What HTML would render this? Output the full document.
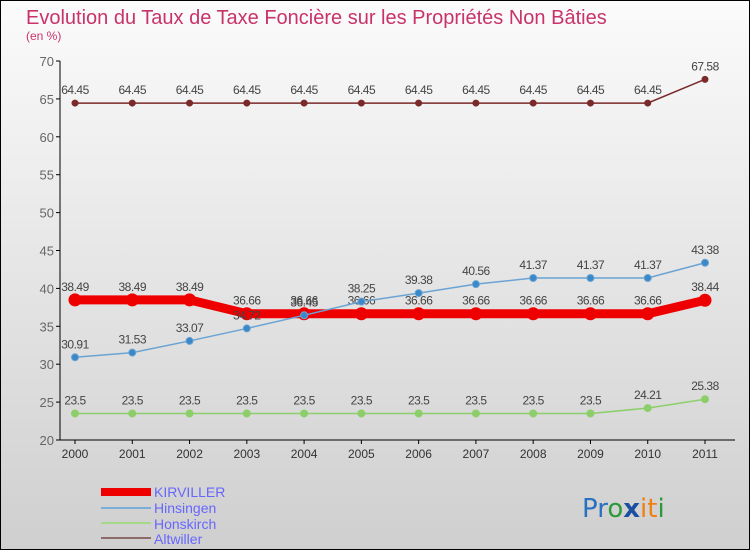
<!DOCTYPE html>
<html><head><meta charset="utf-8"><style>
body{margin:0;}
#wrap{width:750px;height:550px;position:relative;box-sizing:border-box;border:1px solid #000;background:linear-gradient(#fbfbfb,#cfcfcf);font-family:"Liberation Sans",sans-serif;overflow:hidden}
</style></head><body>
<div id="wrap">
<svg id="chart" width="750" height="550" style="position:absolute;left:-1px;top:-1px">
<text x="26" y="24" font-size="20" fill="#c8336a">Evolution du Taux de Taxe Foncière sur les Propriétés Non Bâties</text>
<text x="26" y="40" font-size="12" fill="#c8336a">(en %)</text>
<g id="axes"></g><g id="series"></g>
<g>
<rect x="101" y="488" width="50" height="8" fill="#ee0000"/>
<text x="154" y="497" font-size="14" fill="#6666ff">KIRVILLER</text>
<line x1="101" y1="508" x2="151" y2="508" stroke="#7aaed6" stroke-width="2"/>
<text x="154" y="513" font-size="14" fill="#6666ff">Hinsingen</text>
<line x1="101" y1="523" x2="151" y2="523" stroke="#a6d88a" stroke-width="2"/>
<text x="154" y="529" font-size="14" fill="#6666ff">Honskirch</text>
<line x1="101" y1="538" x2="151" y2="538" stroke="#8e6b6b" stroke-width="2"/>
<text x="154" y="544" font-size="14" fill="#6666ff">Altwiller</text>
</g>
<g font-size="26" font-family="DejaVu Sans, sans-serif">
<text x="582" y="517"><tspan fill="#2a70c0">Pr</tspan><tspan fill="#2a9a3a">o</tspan><tspan fill="#1a50a0" font-weight="bold">x</tspan><tspan fill="#f08010">it</tspan><tspan fill="#2a9a3a">i</tspan></text>
</g>
</svg>
</div>
<script>
const years=["2000","2001","2002","2003","2004","2005","2006","2007","2008","2009","2010","2011"];
const yTicks=[20,25,30,35,40,45,50,55,60,65,70];
const kirviller=[38.49,38.49,38.49,36.66,36.66,36.66,36.66,36.66,36.66,36.66,36.66,38.44];
const hinsingen=[30.91,31.53,33.07,34.72,36.45,38.25,39.38,40.56,41.37,41.37,41.37,43.38];
const honskirch=[23.5,23.5,23.5,23.5,23.5,23.5,23.5,23.5,23.5,23.5,24.21,25.38];
const altwiller=[64.45,64.45,64.45,64.45,64.45,64.45,64.45,64.45,64.45,64.45,64.45,67.58];
const NS="http://www.w3.org/2000/svg";
const x0=75,x1=705,y20=440,y70=61;
const xs=i=>x0+i*(x1-x0)/(years.length-1);
const ys=v=>y20-(v-20)*(y20-y70)/50;
function mk(t,a,p){const e=document.createElementNS(NS,t);for(const k in a)e.setAttribute(k,a[k]);p.appendChild(e);return e;}
const ax=document.getElementById('axes');
const yl=mk('line',{x1:60,y1:y70,x2:60,y2:y20,stroke:'#000'},ax);


const xl=mk('line',{x1:60,y1:y20,x2:735,y2:y20,stroke:'#000'},ax);


yTicks.forEach(v=>{
 mk('line',{x1:56,y1:ys(v),x2:60,y2:ys(v),stroke:'#000'},ax);
 const t=mk('text',{x:54,y:ys(v)+5,'font-size':13,fill:'#666','text-anchor':'end'},ax);t.textContent=v;
 
 
});
years.forEach((y,i)=>{
 mk('line',{x1:xs(i),y1:y20,x2:xs(i),y2:y20+4,stroke:'#000'},ax);
 const t=mk('text',{x:xs(i),y:y20+18,'font-size':12,fill:'#333','text-anchor':'middle'},ax);t.textContent=y;
 
 
});
const sg=document.getElementById('series');
function series(name,data,color,w,r,dot){
 const g=mk('g',{},sg);
 
 
 const pl=mk('polyline',{points:data.map((v,i)=>xs(i)+','+ys(v)).join(' '),fill:'none',stroke:color,'stroke-width':w},g);
 
 
 data.forEach((v,i)=>{
  const c=mk('circle',{cx:xs(i),cy:ys(v),r:r,fill:dot,stroke:color,'stroke-width':1},g);
  
  
  const t=mk('text',{x:xs(i),y:ys(v)-9,'font-size':12,fill:'#444','text-anchor':'middle','letter-spacing':'-0.5'},g);t.textContent=v;
  
  
 });
}
series('altwiller',altwiller,'#7a2a2a',1.5,3,'#7a2a2a');
series('honskirch',honskirch,'#8ccf6a',1.5,3.5,'#8ccf6a');
series('kirviller',kirviller,'#ee0000',9,6,'#ee0000');
series('hinsingen',hinsingen,'#6aa3d4',1.5,3.5,'#3a88c8');
</script>
</body></html>
